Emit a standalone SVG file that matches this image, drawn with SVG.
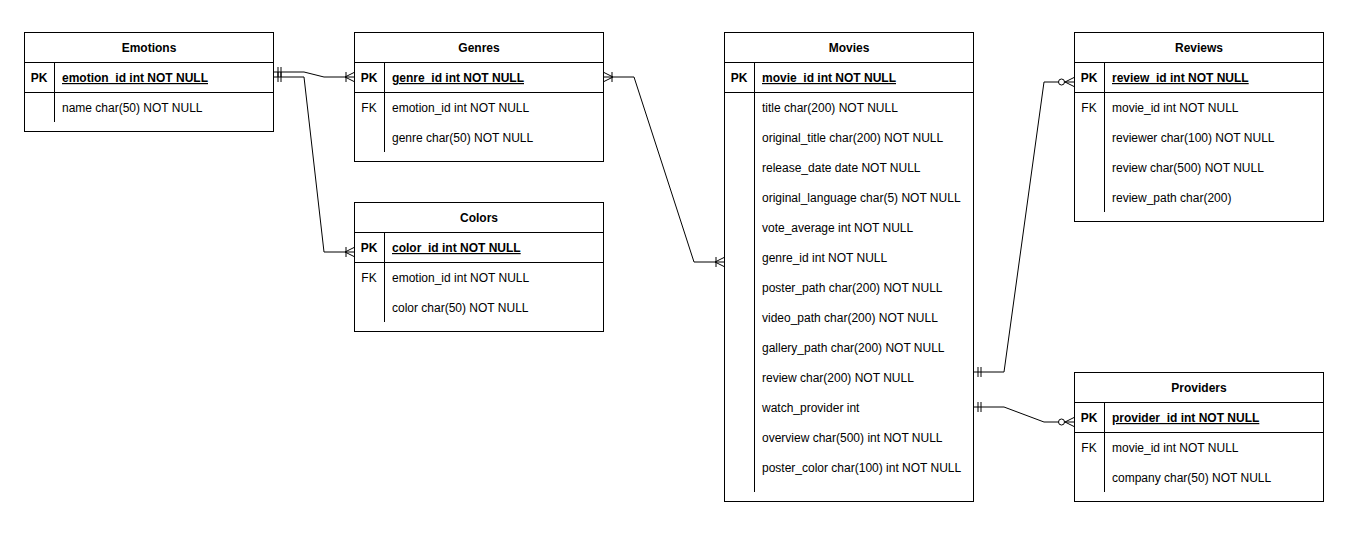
<svg xmlns="http://www.w3.org/2000/svg" width="1352" height="538" viewBox="0 0 1352 538">
<style>
  .box{fill:#fff;stroke:#000;stroke-width:1}
  .ln{stroke:#000;stroke-width:1;fill:none}
  text{font-family:"Liberation Sans",Arial,Helvetica,sans-serif;font-size:12px;fill:#000}
  .hd{font-weight:bold;text-anchor:middle}
  .key{font-weight:bold;text-anchor:middle}
  .fk{text-anchor:middle}
  .pk{font-weight:bold;text-decoration:underline}
  .edge{stroke:#000;stroke-width:1;fill:none}
</style>
<defs>
  <marker id="mandOne" markerUnits="userSpaceOnUse" orient="auto" refX="0" refY="0" markerWidth="20" markerHeight="20" overflow="visible">
    <path d="M4,-5V5M7,-5V5" stroke="#000" stroke-width="1" fill="none"/>
  </marker>
  <marker id="oneToMany" markerUnits="userSpaceOnUse" orient="auto-start-reverse" refX="0" refY="0" markerWidth="20" markerHeight="20" overflow="visible">
    <path d="M0,-4.5L-9,0L0,4.5M-8,-5V5" stroke="#000" stroke-width="1" fill="none"/>
  </marker>
  <marker id="zeroToMany" markerUnits="userSpaceOnUse" orient="auto" refX="0" refY="0" markerWidth="20" markerHeight="20" overflow="visible">
    <path d="M0,-4.5L-9,0L0,4.5" stroke="#000" stroke-width="1" fill="none"/>
    <circle cx="-12.5" cy="0" r="3" fill="#fff" stroke="#000" stroke-width="1"/>
  </marker>
</defs>
<rect x="0" y="0" width="1352" height="538" fill="#fff"/>

<g id="connectors">
  <path class="edge" d="M274,72H304L324,77H354" marker-start="url(#mandOne)" marker-end="url(#oneToMany)"/>
  <path class="edge" d="M274,77H304L324,252H354" marker-start="url(#mandOne)" marker-end="url(#oneToMany)"/>
  <path class="edge" d="M604,77H634L694,262H724" marker-start="url(#oneToMany)" marker-end="url(#oneToMany)"/>
  <path class="edge" d="M974,372H1004L1044,82H1074" marker-start="url(#mandOne)" marker-end="url(#zeroToMany)"/>
  <path class="edge" d="M974,407H1004L1044,422H1074" marker-start="url(#mandOne)" marker-end="url(#zeroToMany)"/>
</g>

<g id="emotions">
  <rect class="box" x="24.5" y="32.5" width="249" height="99"/>
  <path class="ln" d="M24.5,62.5H273.5M24.5,92.5H273.5M54.5,62.5V122"/>
  <text class="hd" x="149" y="52">Emotions</text>
  <text class="key" x="39" y="82">PK</text>
  <text class="pk" x="62" y="82">emotion_id int NOT NULL</text>
  <text x="62" y="112">name char(50) NOT NULL</text>
</g>

<g id="genres">
  <rect class="box" x="354.5" y="32.5" width="249" height="129"/>
  <path class="ln" d="M354.5,62.5H603.5M354.5,92.5H603.5M384.5,62.5V152"/>
  <text class="hd" x="479" y="52">Genres</text>
  <text class="key" x="369" y="82">PK</text>
  <text class="pk" x="392" y="82">genre_id int NOT NULL</text>
  <text class="fk" x="369" y="112">FK</text>
  <text x="392" y="112">emotion_id int NOT NULL</text>
  <text x="392" y="142">genre char(50) NOT NULL</text>
</g>

<g id="colors">
  <rect class="box" x="354.5" y="202.5" width="249" height="129"/>
  <path class="ln" d="M354.5,232.5H603.5M354.5,262.5H603.5M384.5,232.5V322"/>
  <text class="hd" x="479" y="222">Colors</text>
  <text class="key" x="369" y="252">PK</text>
  <text class="pk" x="392" y="252">color_id int NOT NULL</text>
  <text class="fk" x="369" y="282">FK</text>
  <text x="392" y="282">emotion_id int NOT NULL</text>
  <text x="392" y="312">color char(50) NOT NULL</text>
</g>

<g id="movies">
  <rect class="box" x="724.5" y="32.5" width="249" height="469"/>
  <path class="ln" d="M724.5,62.5H973.5M724.5,92.5H973.5M754.5,62.5V492"/>
  <text class="hd" x="849" y="52">Movies</text>
  <text class="key" x="739" y="82">PK</text>
  <text class="pk" x="762" y="82">movie_id int NOT NULL</text>
  <text x="762" y="112">title char(200) NOT NULL</text>
  <text x="762" y="142">original_title char(200) NOT NULL</text>
  <text x="762" y="172">release_date date NOT NULL</text>
  <text x="762" y="202">original_language char(5) NOT NULL</text>
  <text x="762" y="232">vote_average int NOT NULL</text>
  <text x="762" y="262">genre_id int NOT NULL</text>
  <text x="762" y="292">poster_path char(200) NOT NULL</text>
  <text x="762" y="322">video_path char(200) NOT NULL</text>
  <text x="762" y="352">gallery_path char(200) NOT NULL</text>
  <text x="762" y="382">review char(200) NOT NULL</text>
  <text x="762" y="412">watch_provider int</text>
  <text x="762" y="442">overview char(500) int NOT NULL</text>
  <text x="762" y="472">poster_color char(100) int NOT NULL</text>
</g>

<g id="reviews">
  <rect class="box" x="1074.5" y="32.5" width="249" height="189"/>
  <path class="ln" d="M1074.5,62.5H1323.5M1074.5,92.5H1323.5M1104.5,62.5V212"/>
  <text class="hd" x="1199" y="52">Reviews</text>
  <text class="key" x="1089" y="82">PK</text>
  <text class="pk" x="1112" y="82">review_id int NOT NULL</text>
  <text class="fk" x="1089" y="112">FK</text>
  <text x="1112" y="112">movie_id int NOT NULL</text>
  <text x="1112" y="142">reviewer char(100) NOT NULL</text>
  <text x="1112" y="172">review char(500) NOT NULL</text>
  <text x="1112" y="202">review_path char(200)</text>
</g>

<g id="providers">
  <rect class="box" x="1074.5" y="372.5" width="249" height="129"/>
  <path class="ln" d="M1074.5,402.5H1323.5M1074.5,432.5H1323.5M1104.5,402.5V492"/>
  <text class="hd" x="1199" y="392">Providers</text>
  <text class="key" x="1089" y="422">PK</text>
  <text class="pk" x="1112" y="422">provider_id int NOT NULL</text>
  <text class="fk" x="1089" y="452">FK</text>
  <text x="1112" y="452">movie_id int NOT NULL</text>
  <text x="1112" y="482">company char(50) NOT NULL</text>
</g>
</svg>
